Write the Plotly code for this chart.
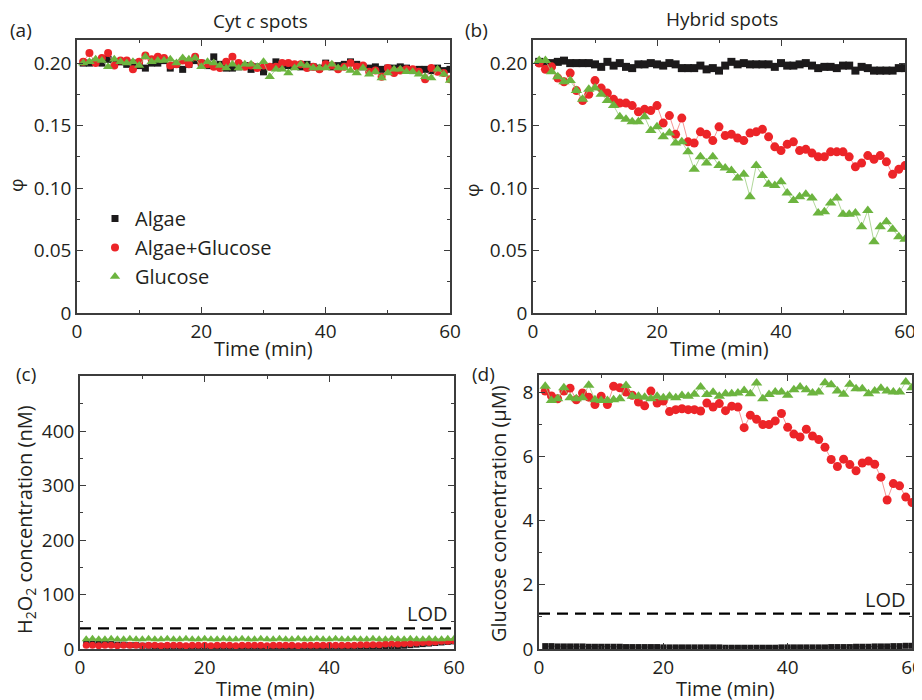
import plotly.graph_objects as go

# time points (min)
TIME = list(range(1, 61))

# (a) Cyt c spots, phi
cyt_algae = [0.200, 0.200, 0.201, 0.200, 0.203, 0.200, 0.201, 0.199, 0.200, 0.198,
             0.196, 0.200, 0.200, 0.202, 0.196, 0.199, 0.195, 0.199, 0.202, 0.200,
             0.198, 0.205, 0.199, 0.196, 0.196, 0.197, 0.198, 0.195, 0.197, 0.193,
             0.197, 0.201, 0.199, 0.198, 0.198, 0.197, 0.199, 0.197, 0.196, 0.200,
             0.197, 0.198, 0.199, 0.201, 0.199, 0.197, 0.196, 0.197, 0.195, 0.196,
             0.196, 0.197, 0.196, 0.194, 0.195, 0.195, 0.194, 0.196, 0.194, 0.195]
cyt_algae_glc = [0.201, 0.208, 0.200, 0.204, 0.208, 0.198, 0.202, 0.202, 0.195, 0.201,
                 0.206, 0.203, 0.205, 0.204, 0.198, 0.199, 0.202, 0.199, 0.205, 0.200,
                 0.199, 0.197, 0.196, 0.201, 0.205, 0.200, 0.197, 0.198, 0.196, 0.198,
                 0.197, 0.197, 0.200, 0.200, 0.199, 0.199, 0.196, 0.197, 0.195, 0.199,
                 0.198, 0.195, 0.197, 0.200, 0.197, 0.198, 0.193, 0.194, 0.189, 0.196,
                 0.192, 0.194, 0.195, 0.195, 0.193, 0.187, 0.196, 0.193, 0.192, 0.187]
cyt_glc = [0.200, 0.201, 0.203, 0.202, 0.197, 0.203, 0.201, 0.200, 0.201, 0.198,
           0.205, 0.201, 0.202, 0.202, 0.203, 0.200, 0.204, 0.203, 0.204, 0.197,
           0.201, 0.200, 0.198, 0.196, 0.199, 0.196, 0.199, 0.199, 0.197, 0.201,
           0.189, 0.195, 0.195, 0.192, 0.196, 0.199, 0.198, 0.196, 0.196, 0.196,
           0.199, 0.196, 0.196, 0.194, 0.192, 0.196, 0.191, 0.193, 0.188, 0.192,
           0.195, 0.195, 0.193, 0.193, 0.191, 0.189, 0.188, 0.195, 0.191, 0.186]

# (b) Hybrid spots, phi
hyb_algae = [0.201, 0.200, 0.200, 0.201, 0.202, 0.200, 0.200, 0.200, 0.200, 0.199,
             0.197, 0.201, 0.198, 0.200, 0.197, 0.196, 0.199, 0.199, 0.200, 0.199,
             0.198, 0.200, 0.199, 0.196, 0.196, 0.196, 0.198, 0.195, 0.196, 0.194,
             0.198, 0.201, 0.199, 0.200, 0.199, 0.199, 0.199, 0.199, 0.197, 0.200,
             0.198, 0.198, 0.199, 0.200, 0.198, 0.196, 0.197, 0.197, 0.196, 0.198,
             0.198, 0.194, 0.197, 0.196, 0.194, 0.194, 0.194, 0.194, 0.196, 0.196]
hyb_algae_glc = [0.200, 0.195, 0.197, 0.188, 0.185, 0.192, 0.178, 0.170, 0.175, 0.186,
                 0.180, 0.176, 0.171, 0.168, 0.168, 0.166, 0.161, 0.163, 0.162, 0.166,
                 0.152, 0.158, 0.143, 0.156, 0.137, 0.136, 0.145, 0.143, 0.138, 0.149,
                 0.142, 0.143, 0.140, 0.138, 0.144, 0.145, 0.147, 0.141, 0.133, 0.130,
                 0.135, 0.137, 0.130, 0.131, 0.128, 0.125, 0.125, 0.129, 0.129, 0.129,
                 0.125, 0.117, 0.120, 0.126, 0.123, 0.126, 0.121, 0.111, 0.115, 0.118]
hyb_glc = [0.202, 0.202, 0.193, 0.189, 0.185, 0.186, 0.178, 0.171, 0.179, 0.180,
           0.175, 0.170, 0.166, 0.157, 0.155, 0.153, 0.153, 0.157, 0.146, 0.149,
           0.141, 0.144, 0.136, 0.137, 0.129, 0.115, 0.125, 0.120, 0.125, 0.118,
           0.116, 0.114, 0.108, 0.111, 0.093, 0.118, 0.110, 0.103, 0.102, 0.105,
           0.096, 0.090, 0.093, 0.095, 0.092, 0.080, 0.081, 0.088, 0.092, 0.079,
           0.079, 0.080, 0.069, 0.082, 0.057, 0.069, 0.073, 0.067, 0.061, 0.059]

# (c) H2O2 concentration (nM)
h2o2_algae = [11, 10, 10, 9, 9, 8, 8, 7, 7, 6, 6, 5, 5, 5, 4, 4, 4, 3, 3, 3,
              3, 2, 2, 2, 2, 2, 2, 2, 1, 1, 1, 1, 1, 1, 1, 1, 1, 1, 1, 1,
              1, 1, 1, 1, 2, 2, 2, 3, 3, 4, 5, 6, 7, 8, 9, 10, 11, 12, 13, 14]
h2o2_algae_glc = [7, 7, 6, 7, 7, 6, 7, 7, 7, 6, 7, 7, 6, 7, 7, 7, 6, 7, 7, 7,
                  6, 7, 7, 7, 6, 7, 7, 7, 7, 6, 7, 7, 7, 7, 6, 7, 7, 7, 7, 7,
                  7, 7, 7, 7, 8, 8, 8, 8, 9, 9, 9, 10, 10, 11, 12, 12, 13, 14, 14, 15]
h2o2_glc = [18, 19, 18, 18, 19, 18, 18, 19, 18, 18, 19, 18, 18, 19, 18, 18, 19, 18, 18, 19,
            18, 18, 19, 18, 18, 19, 18, 18, 19, 18, 18, 19, 18, 18, 19, 18, 18, 19, 18, 18,
            19, 18, 18, 19, 18, 18, 19, 18, 18, 19, 18, 18, 19, 18, 18, 19, 18, 18, 19, 19]
h2o2_lod = 38

# (d) Glucose concentration (uM)
glc_algae = [0.09, 0.09, 0.08, 0.08, 0.08, 0.08, 0.08, 0.07, 0.07, 0.07,
             0.07, 0.07, 0.07, 0.06, 0.06, 0.06, 0.06, 0.06, 0.06, 0.05,
             0.05, 0.05, 0.05, 0.05, 0.05, 0.05, 0.05, 0.05, 0.05, 0.04,
             0.04, 0.04, 0.04, 0.04, 0.04, 0.04, 0.04, 0.04, 0.05, 0.05,
             0.05, 0.05, 0.05, 0.05, 0.05, 0.05, 0.06, 0.06, 0.06, 0.06,
             0.07, 0.07, 0.07, 0.08, 0.08, 0.08, 0.09, 0.09, 0.10, 0.10]
glc_algae_glc = [8.03, 7.88, 7.79, 8.03, 8.12, 7.76, 7.97, 7.84, 7.61, 7.87,
                 7.61, 8.18, 8.13, 8.00, 7.90, 7.69, 7.57, 8.03, 7.66, 7.72,
                 7.39, 7.45, 7.48, 7.45, 7.45, 7.41, 7.66, 7.53, 7.64, 7.42,
                 7.56, 7.53, 6.89, 7.28, 7.15, 6.99, 6.99, 7.10, 7.33, 6.90,
                 6.69, 6.60, 6.84, 6.63, 6.52, 6.28, 5.90, 5.68, 5.91, 5.74,
                 5.55, 5.79, 5.85, 5.75, 5.35, 4.64, 5.15, 5.08, 4.73, 4.56]
glc_glc = [8.18, 7.74, 7.79, 8.13, 7.82, 7.79, 7.82, 8.21, 7.76, 7.74,
           7.74, 7.76, 7.79, 8.20, 7.87, 7.87, 7.84, 7.79, 7.87, 7.82,
           7.87, 7.82, 7.89, 7.87, 7.93, 8.16, 7.92, 7.99, 7.87, 7.95,
           7.95, 7.97, 8.05, 7.95, 8.28, 7.79, 7.92, 8.00, 8.00, 7.90,
           8.07, 8.16, 8.07, 7.97, 8.00, 8.29, 8.23, 8.03, 7.93, 8.24,
           8.10, 8.10, 7.95, 8.03, 8.12, 8.03, 8.00, 8.00, 8.31, 8.13]
glc_lod = 1.1

SERIES = ["Algae", "Algae+Glucose", "Glucose"]
BLACK = "#1c1a1b"
RED = "#ec2428"
GREEN = "#6cb43f"
FONT = "Open Sans"
TXT = "#231f20"
AXCOL = "#3c3c3c"

# page body has an 8px margin, so the figure is shifted; map target pixels
OFF = 8
W, H = 922 - OFF, 700 - OFF


def fx(px):
    return (px - OFF) / W


def fy(py):
    return 1 - (py - OFF) / H


styles = [
    dict(color=BLACK, symbol="square", line="#555555"),
    dict(color=RED, symbol="circle", line="#f4787a"),
    dict(color=GREEN, symbol="triangle-up", line="#9ccd7f"),
]

panels = [
    ("x", "y", [cyt_algae, cyt_algae_glc, cyt_glc], [7, 8, 9]),
    ("x2", "y2", [hyb_algae, hyb_algae_glc, hyb_glc], [8, 9, 10]),
    ("x3", "y3", [h2o2_algae, h2o2_algae_glc, h2o2_glc], [6, 7, 8]),
    ("x4", "y4", [glc_algae, glc_algae_glc, glc_glc], [6, 9, 10]),
]

fig = go.Figure()

for xa, ya, data, sizes in panels:
    for vals, st, sz in zip(data, styles, sizes):
        fig.add_trace(go.Scatter(
            x=TIME, y=vals, xaxis=xa, yaxis=ya, mode="lines+markers",
            line=dict(color=st["line"], width=0.8),
            marker=dict(color=st["color"], symbol=st["symbol"], size=sz),
            showlegend=False))

# limit of detection lines
for xa, ya, lod in [("x3", "y3", h2o2_lod), ("x4", "y4", glc_lod)]:
    fig.add_trace(go.Scatter(
        x=[0, 60], y=[lod, lod], xaxis=xa, yaxis=ya, mode="lines",
        line=dict(color="black", width=2.2, dash="11px,7px"), showlegend=False))
    fig.add_annotation(x=60, y=lod, xref=xa, yref=ya, text="LOD",
                       xanchor="right", yanchor="bottom", showarrow=False,
                       xshift=-4, yshift=-1,
                       font=dict(family=FONT, size=20, color=TXT))

# legend entries (markers only)
for name, st, sz in zip(SERIES, styles, [7, 8, 9]):
    fig.add_trace(go.Scatter(
        x=[None], y=[None], mode="markers", name=name,
        marker=dict(color=st["color"], symbol=st["symbol"], size=sz)))


def xaxis(x0, x1, anchor):
    return dict(domain=[fx(x0), fx(x1)], anchor=anchor, range=[0, 60],
                tickvals=[0, 20, 40, 60], ticktext=["0", "20", "40", "60"],
                showline=True, linecolor=AXCOL, linewidth=1.5, mirror="ticks",
                ticks="inside", ticklen=6, tickwidth=1.2, tickcolor=AXCOL,
                minor=dict(ticks="inside", ticklen=3, tickwidth=1, tickcolor=AXCOL, dtick=10),
                showgrid=False, zeroline=False, automargin=False,
                ticklabeloverflow="allow",
                tickfont=dict(family=FONT, size=19, color=TXT))


def yaxis(y_top, y_bot, anchor, rng, tickvals, ticktext, minor):
    return dict(domain=[fy(y_bot), fy(y_top)], anchor=anchor, range=rng,
                tickvals=tickvals, ticktext=ticktext,
                showline=True, linecolor=AXCOL, linewidth=1.5, mirror="ticks",
                ticks="inside", ticklen=6, tickwidth=1.2, tickcolor=AXCOL,
                minor=dict(ticks="inside", ticklen=3, tickwidth=1, tickcolor=AXCOL,
                           tick0=0, dtick=minor),
                showgrid=False, zeroline=False, automargin=False,
                ticklabeloverflow="allow",
                tickfont=dict(family=FONT, size=19, color=TXT))


phi_vals = [0, 0.05, 0.10, 0.15, 0.20]
phi_text = ["0", "0.05", "0.10", "0.15", "0.20"]

fig.update_layout(
    width=W, height=H,
    margin=dict(l=0, r=0, t=0, b=0),
    paper_bgcolor="white", plot_bgcolor="white",
    xaxis=xaxis(77, 450, "y"),
    yaxis=yaxis(40, 313, "x", [0, 0.2185], phi_vals, phi_text, 0.025),
    xaxis2=xaxis(533, 905, "y2"),
    yaxis2=yaxis(40, 313, "x2", [0, 0.2185], phi_vals, phi_text, 0.025),
    xaxis3=xaxis(80, 454, "y3"),
    yaxis3=yaxis(376, 649, "x3", [0, 501], [0, 100, 200, 300, 400],
                 ["0", "100", "200", "300", "400"], 50),
    xaxis4=xaxis(539, 912, "y4"),
    yaxis4=yaxis(375, 649, "x4", [0, 8.53], [0, 2, 4, 6, 8],
                 ["0", "2", "4", "6", "8"], 1),
    legend=dict(x=fx(95), y=fy(199), xanchor="left", yanchor="top",
                bgcolor="rgba(0,0,0,0)", itemwidth=30, tracegroupgap=0,
                font=dict(family=FONT, size=20, color=TXT)),
    font=dict(family=FONT, color=TXT),
)

# panel labels, titles and axis titles at target pixel positions
texts = [
    ("(a)", 21, 30, 0, 19),
    ("(b)", 476, 30, 0, 19),
    ("(c)", 26, 374, 0, 19),
    ("(d)", 483, 374, 0, 19),
    ("Cyt <i>c</i> spots", 260, 21, 0, 19),
    ("Hybrid spots", 722, 19, 0, 19),
    ("φ", 16, 185, -90, 19),
    ("φ", 472, 190, -90, 19),
    ("Time (min)", 263, 348, 0, 20),
    ("Time (min)", 719, 348, 0, 20),
    ("Time (min)", 265, 688, 0, 20),
    ("Time (min)", 725, 688, 0, 20),
    ("H<sub>2</sub>O<sub>2</sub> concentration (nM)", 25, 520, -90, 20),
    ("Glucose concentration (μM)", 498, 514, -90, 20),
]
for txt, px, py, ang, fs in texts:
    fig.add_annotation(x=fx(px), y=fy(py), xref="paper", yref="paper",
                       text=txt, showarrow=False, textangle=ang,
                       xanchor="center", yanchor="middle",
                       font=dict(family=FONT, size=fs, color=TXT))

fig.write_html("out.html")
